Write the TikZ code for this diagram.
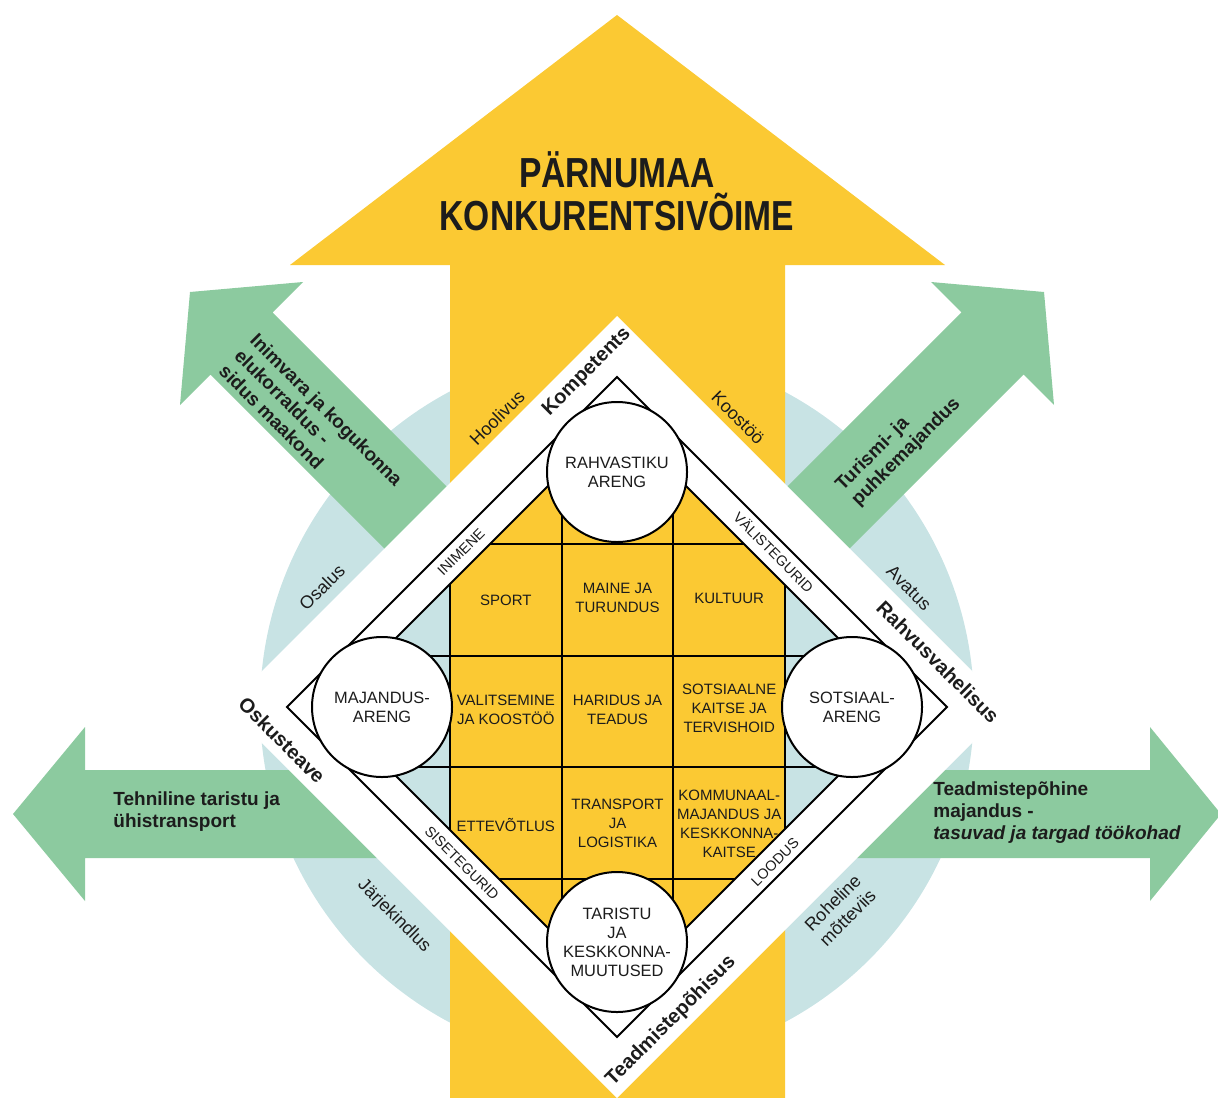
\documentclass[tikz,border=0pt]{standalone}
\usepackage{fontspec}
\setmainfont{Liberation Sans}
\newfontfamily\titlefont[FakeStretch=0.8]{Liberation Sans}
\definecolor{ylw}{HTML}{FBC933}
\definecolor{grn}{HTML}{8CCA9F}
\definecolor{tea}{HTML}{C8E3E4}
\definecolor{ink}{HTML}{1C1C1C}
\tikzset{
  celltxt/.style={font=\fontsize{7.5}{9.5}\selectfont, align=center, text=ink, inner sep=0pt},
  circtxt/.style={circle, draw=black, line width=1pt, fill=white, minimum size=70pt, inner sep=0pt, align=center, text=ink, font=\fontsize{8.2}{9.5}\selectfont},
  bandlbl/.style={font=\fontsize{7.2}{8}\selectfont, text=ink, inner sep=0pt},
  edgelbl/.style={font=\bfseries\fontsize{10}{12}\selectfont, text=ink, inner sep=0pt},
  valuelbl/.style={font=\fontsize{9}{10.5}\selectfont, text=ink, inner sep=0pt, align=center},
  arrowtxt/.style={font=\bfseries\fontsize{9.5}{11}\selectfont, text=ink, align=left, inner sep=0pt},
  blackline/.style={draw=black, line width=1pt},
}
\begin{document}
\begin{tikzpicture}[x=0.5pt,y=-0.5pt]
\useasboundingbox (0,0) rectangle (1218,1097);
\clip (0,0) rectangle (1218,1097);
% light teal disk
\fill[tea] (617,707) circle[radius=178.5pt];
% green arrows
\fill[grn] (13,814) -- (85,727) -- (85,770) -- (617,770) -- (617,858) -- (85,858) -- (85,901) -- cycle;
\fill[grn] (1221,814) -- (1150,727) -- (1150,770) -- (617,770) -- (617,858) -- (1150,858) -- (1150,901) -- cycle;
\fill[grn] (190,292) -- (303,282) -- (272.6,312.4) -- (555.6,595.4) -- (493.4,657.6) -- (210.4,374.6) -- (180,405) -- cycle;
\fill[grn] (1044,292) -- (931,282) -- (961.4,312.4) -- (678.4,595.4) -- (740.6,657.6) -- (1023.6,374.6) -- (1054,405) -- cycle;
% yellow arrow
\fill[ylw] (450,1100) -- (450,265) -- (290,265) -- (617,15) -- (945,265) -- (785,265) -- (785,1100) -- cycle;
% white diamond
\fill[white] (617,316) -- (1008,707) -- (617,1098) -- (226,707) -- cycle;
% inner area
\fill[tea] (617,417) -- (907,707) -- (617,997) -- (327,707) -- cycle;
\begin{scope}
  \clip (617,417) -- (907,707) -- (617,997) -- (327,707) -- cycle;
  \fill[ylw] (450,300) rectangle (785,1100);
  \foreach \gx in {450,561.67,673.33,785} \draw[blackline] (\gx,300) -- (\gx,1100);
  \foreach \gy in {544,655.67,767.33,879} \draw[blackline] (300,\gy) -- (950,\gy);
\end{scope}
\draw[blackline] (617,417) -- (907,707) -- (617,997) -- (327,707) -- cycle;
\draw[blackline] (617,377) -- (947,707) -- (617,1037) -- (287,707) -- cycle;
% circles
\node[circtxt] (top) at (617,472) {RAHVASTIKU\\ARENG};
\node[circtxt] (left) at (382,707) {MAJANDUS-\\ARENG};
\node[circtxt] (right) at (852,707) {SOTSIAAL-\\ARENG};
\node[circtxt] (bottom) at (617,942) {TARISTU\\JA\\KESKKONNA-\\MUUTUSED};
% grid cells
\node[celltxt] (c11) at (505.8,600) {SPORT};
\node[celltxt] (c12) at (617.5,598) {MAINE JA\\TURUNDUS};
\node[celltxt] (c13) at (729.2,598) {KULTUUR};
\node[celltxt] (c21) at (505.8,710) {VALITSEMINE\\JA KOOSTÖÖ};
\node[celltxt] (c22) at (617.5,710) {HARIDUS JA\\TEADUS};
\node[celltxt] (c23) at (729.2,708) {SOTSIAALNE\\KAITSE JA\\TERVISHOID};
\node[celltxt] (c31) at (505.8,825) {ETTEVÕTLUS};
\node[celltxt] (c32) at (617.5,823) {TRANSPORT\\JA\\LOGISTIKA};
\node[celltxt] (c33) at (729.2,824) {KOMMUNAAL-\\MAJANDUS JA\\KESKKONNA-\\KAITSE};
% band labels
\node[bandlbl, rotate=45] (inimene) at (461,552) {INIMENE};
\node[bandlbl, rotate=-45] (valis) at (774,552) {VÄLISTEGURID};
\node[bandlbl, rotate=-45] (sise) at (462,863) {SISETEGURID};
\node[bandlbl, rotate=45] (loodus) at (775,862) {LOODUS};
% edge labels
\node[edgelbl, rotate=45] (komp) at (587,372) {Kompetents};
\node[edgelbl, rotate=-45] (rahv) at (938,662) {Rahvusvahelisus};
\node[edgelbl, rotate=45] (tead) at (671,1021) {Teadmistepõhisus};
\node[edgelbl, rotate=-45] (osk) at (282,740) {Oskusteave};
% value labels
\node[valuelbl, rotate=45] (hool) at (497,418) {Hoolivus};
\node[valuelbl, rotate=-45] (koos) at (738,418) {Koostöö};
\node[valuelbl, rotate=45] (osal) at (322,587) {Osalus};
\node[valuelbl, rotate=-45] (avat) at (909,588) {Avatus};
\node[valuelbl, rotate=-45] (jarj) at (394,916) {Järjekindlus};
\node[valuelbl, rotate=45] (rohe) at (840,910) {Roheline\\mõtteviis};
% arrow texts
\node[font=\titlefont\bfseries\fontsize{21}{21.5}\selectfont, text=ink, align=center] (title) at (617,191) {PÄRNUMAA\\KONKURENTSIVÕIME};
\node[arrowtxt, anchor=west] (tehn) at (113,812) {Tehniline taristu ja\\ühistransport};
\node[arrowtxt, anchor=west] (teadm) at (933,813) {Teadmistepõhine\\majandus -\\\textit{tasuvad ja targad töökohad}};
\node[arrowtxt, anchor=west, rotate=-45] (inim) at (238,352) {Inimvara ja kogukonna\\elukorraldus -\\sidus maakond};
\node[arrowtxt, anchor=west, rotate=45] (turism) at (847,496) {Turismi- ja\\puhkemajandus};
\end{tikzpicture}
\end{document}
